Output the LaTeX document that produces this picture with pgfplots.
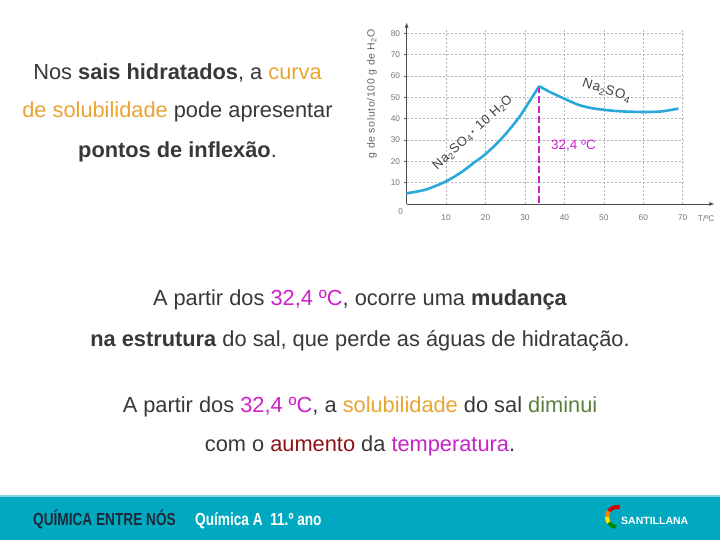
\documentclass[border=0pt]{standalone}
\usepackage{fontspec}
\setmainfont{Liberation Sans}
\newfontfamily\condfont[FakeStretch=0.78]{Liberation Sans}
\newfontfamily\spaced[LetterSpace=8]{Liberation Sans}
\newfontfamily\spacedsmall[LetterSpace=6]{Liberation Sans}
\usepackage{pgfplots}
\pgfplotsset{compat=1.18}
\usetikzlibrary{arrows.meta}
\definecolor{txt}{HTML}{383838}
\definecolor{orng}{HTML}{E9A431}
\definecolor{mag}{HTML}{CF1FC9}
\definecolor{grn}{HTML}{5B7F3C}
\definecolor{dred}{HTML}{8E1414}
\definecolor{purp}{HTML}{C324C4}
\definecolor{curve}{HTML}{2AA8DA}
\definecolor{footer}{HTML}{00A9BF}
\definecolor{footerlight}{HTML}{8AD6E0}
\definecolor{navy}{HTML}{1C2B39}
\begin{document}
\begin{tikzpicture}[x=1pt,y=1pt]
\useasboundingbox (0,0) rectangle (720,540);
\fill[white] (0,0) rectangle (720,540);
% footer
\fill[footer] (0,0) rectangle (720,44);
\fill[footerlight] (0,43) rectangle (720,45);
\node[anchor=base west, inner sep=0, text=navy, font=\condfont\bfseries\fontsize{17.5}{18}\selectfont] at (33,14) {QUÍMICA ENTRE NÓS};
\node[anchor=base west, inner sep=0, text=white, font=\condfont\bfseries\fontsize{17.5}{18}\selectfont] at (195,14) {Química A\ \ 11.º ano};
% logo
\draw[line width=4pt, red!85!black] (617,23) ++(75:10) arc (75:145:10);
\draw[line width=4pt, orange] (617,23) ++(145:10) arc (145:180:10);
\draw[line width=4pt, yellow!85!orange] (617,23) ++(180:10) arc (180:215:10);
\draw[line width=4pt, green!55!black] (617,23) ++(215:10) arc (215:265:10);
\node[anchor=base west, inner sep=0, text=white, font=\bfseries\fontsize{10.5}{12}\selectfont] at (621,15) {SANTILLANA};
% texts
\begin{scope}[every node/.style={anchor=base, inner sep=0, text=txt, font=\fontsize{21.8}{24}\selectfont}]
\node at (177.5,460) {Nos \textbf{sais hidratados}, a \textcolor{orng}{curva}};
\node at (177.5,422) {\textcolor{orng}{de solubilidade} pode apresentar};
\node at (177.5,382) {\textbf{pontos de inflexão}.};
\node at (360,234) {A partir dos \textcolor{mag}{32,4 ºC}, ocorre uma \textbf{mudança}};
\node at (360,193) {\textbf{na estrutura} do sal, que perde as águas de hidratação.};
\node at (360,127) {A partir dos \textcolor{mag}{32,4 ºC}, a \textcolor{orng}{solubilidade} do sal \textcolor{grn}{diminui}};
\node at (360,88) {com o \textcolor{dred}{aumento} da \textcolor{purp}{temperatura}.};
\end{scope}
% y label
\node[rotate=90, text=black!60, inner sep=0, font=\spacedsmall\fontsize{10.5}{11}\selectfont] at (372,446) {g de soluto/100 g de H\textsubscript{2}O};
\begin{axis}[
  at={(406.6pt,336pt)}, anchor=south west,
  scale only axis, width=307.7pt, height=181.4pt,
  xmin=0, xmax=78, ymin=0, ymax=85,
  axis lines=left,
  axis line style={-{Latex[length=5pt,width=4pt]}, black!70, line width=0.7pt},
  xtick={10,20,...,70}, ytick={10,20,...,80},
  tick align=outside, major tick length=3pt,
  tick style={black!60, line width=0.5pt},
  xtick style={draw=none},
  tick label style={font=\fontsize{8.3}{9}\selectfont, text=black!55},
  /pgf/number format/assume math mode=true,
  xticklabel style={yshift=-4pt},
  clip=false,
]
\pgfplotsinvokeforeach{10,20,30,40,50,60,70}{
  \draw[black!30, line width=0.5pt, dash pattern=on 2pt off 2pt] (axis cs:#1,0) -- (axis cs:#1,81.5);
}
\pgfplotsinvokeforeach{10,20,30,40,50,60,70,80}{
  \draw[black!30, line width=0.5pt, dash pattern=on 2pt off 2pt] (axis cs:0,#1) -- (axis cs:70,#1);
}
\addplot[curve, line width=2.6pt, smooth, tension=0.5] coordinates {
 (0,5) (2.5,5.8) (5.3,7) (10,10.6) (13.8,14.8) (17.2,19.5) (20,23.4) (24,30.5) (28.2,39.8) (30.6,46.5) (33.6,55.2)};
\addplot[curve, line width=2.6pt, smooth, tension=0.5] coordinates {
 (33.6,55.2) (36,52.8) (39.2,50) (43.5,46.5) (47,44.9) (50.7,44) (54.5,43.4) (60.4,43.1) (64.7,43.4) (68.9,44.7)};
\addplot[mag, line width=2.6pt, dash pattern=on 7pt off 3pt] coordinates {(33.6,0.5) (33.6,54.5)};
\node[inner sep=0, text=black!55, font=\fontsize{8.3}{9}\selectfont] at (axis cs:-1.5,-3.6) {0};
\node[anchor=west, inner sep=0, text=black!55, font=\fontsize{8.3}{9}\selectfont] at (axis cs:73.8,-6.8) {T/ºC};
\node[anchor=west, inner sep=0, text=mag, font=\fontsize{13.5}{14}\selectfont] at (axis cs:36.6,27.3) {32,4 ºC};
\node[rotate=-18, inner sep=0, text=black!75, font=\spaced\fontsize{13.5}{14}\selectfont] at (axis cs:50.7,53.1) {Na\textsubscript{2}SO\textsubscript{4}};
\node[rotate=43, inner sep=0, text=black!75, font=\spaced\fontsize{13}{14}\selectfont] at (axis cs:16.8,33.3) {Na\textsubscript{2}SO\textsubscript{4}\,\textbf{·}\,10 H\textsubscript{2}O};
\end{axis}
\end{tikzpicture}
\end{document}
